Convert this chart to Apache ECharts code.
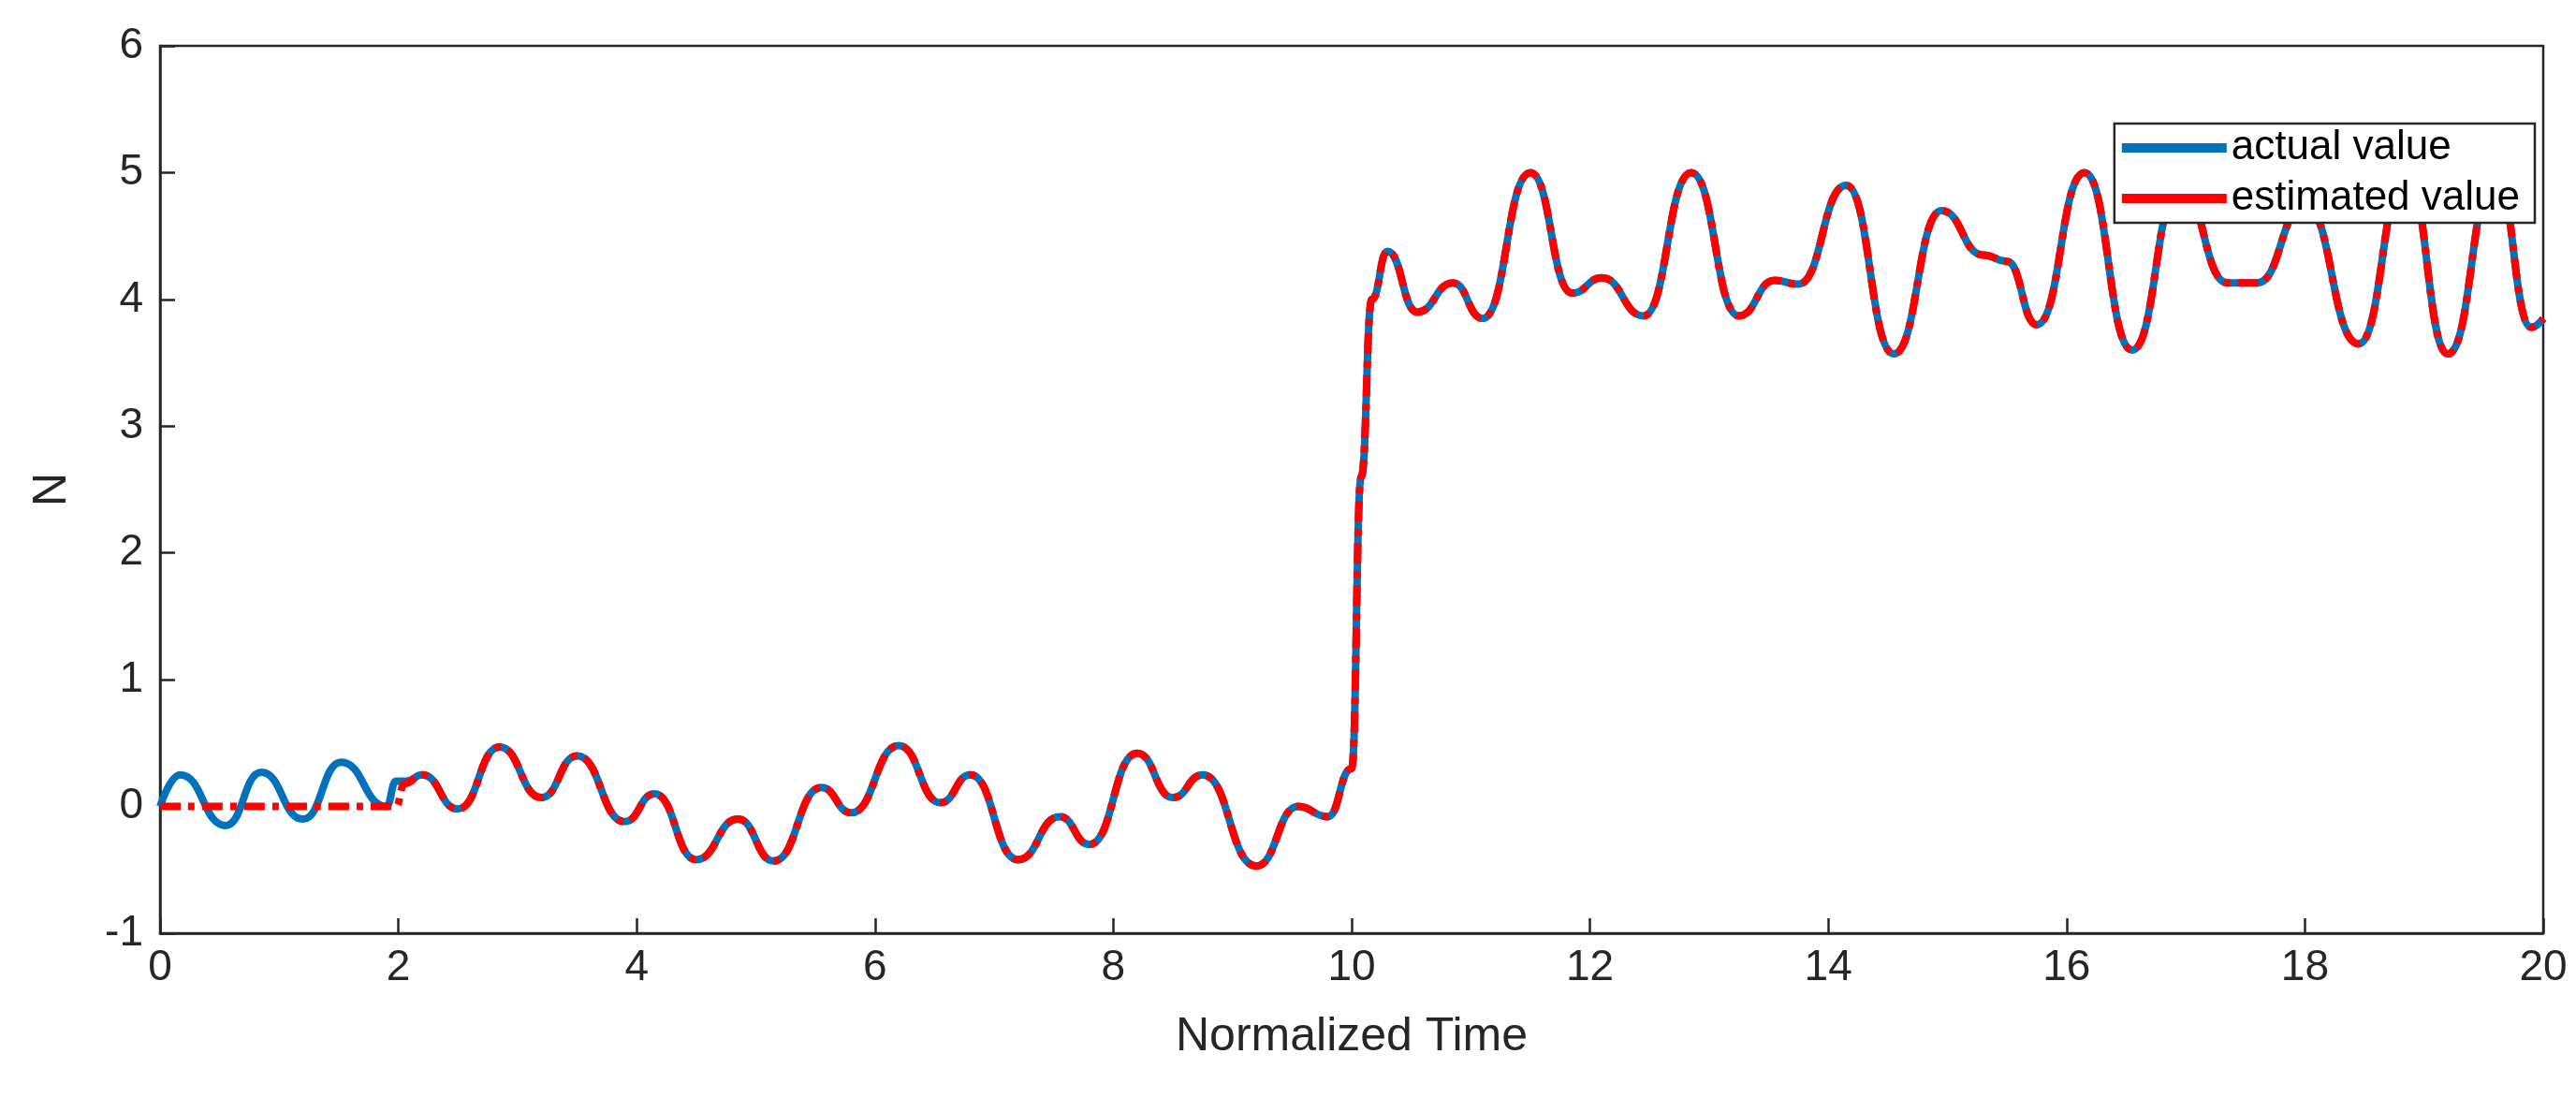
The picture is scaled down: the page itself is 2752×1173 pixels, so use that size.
<!DOCTYPE html>
<html>
<head>
<meta charset="utf-8">
<script src="https://cdn.jsdelivr.net/npm/echarts@6/dist/echarts.min.js"></script>
<style>html,body{margin:0;padding:0;background:#fff}#main{width:2752px;height:1173px}</style>
</head>
<body>
<div id="main"></div>
<script>
// actual value: time / value pairs
var actualT = [0,0.17,0.55,0.85,1.2,1.52,1.9,1.98,2.07,2.2,2.5,2.85,3.2,3.5,3.9,4.15,4.5,4.85,5.15,5.55,5.8,6.2,6.55,6.8,7.2,7.55,7.8,8.2,8.5,8.75,9.2,9.55,9.8,10.0,10.08,10.17,10.3,10.55,10.85,11.1,11.5,11.85,12.1,12.45,12.85,13.25,13.55,13.75,14.15,14.55,14.95,15.3,15.5,15.75,16.15,16.55,16.95,17.35,17.6,18.0,18.45,18.85,19.2,19.6,19.9,20];
var actualV = [0,0.25,-0.15,0.27,-0.1,0.35,0.0,0.2,0.2,0.25,-0.02,0.47,0.07,0.4,-0.12,0.1,-0.42,-0.1,-0.43,0.15,-0.05,0.48,0.03,0.25,-0.42,-0.08,-0.3,0.42,0.07,0.25,-0.47,0,-0.08,0.3,2.6,4.0,4.38,3.9,4.13,3.85,5.0,4.05,4.17,3.87,5.0,3.87,4.15,4.12,4.9,3.57,4.7,4.35,4.3,3.8,5.0,3.6,4.9,4.13,4.13,4.75,3.65,5.0,3.57,5.0,3.78,3.85];
// estimated value: zero until t=2, then follows the actual signal
var estT = [0,1.98,2.05].concat(actualT.slice(9));
var estV = [0,0,0.18].concat(actualV.slice(9));
var xTicks = [0,2,4,6,8,10,12,14,16,18,20];
var yTicks = [-1,0,1,2,3,4,5,6];

function pairs(t,v){ return t.map(function(x,i){ return [x,v[i]]; }); }

var chart = echarts.init(document.getElementById('main'));
var axisTxt = {color:'#262626',fontSize:46,fontFamily:'Arial, Liberation Sans'};
chart.setOption({
  animation:false,
  grid:{left:171,right:35,top:49,bottom:176,show:true,borderColor:'#262626',borderWidth:2.5},
  xAxis:{type:'value',min:0,max:20,interval:2,name:'Normalized Time',nameLocation:'middle',nameGap:86,
    nameTextStyle:{color:'#262626',fontSize:50,fontFamily:'Arial, Liberation Sans'},
    axisLine:{onZero:false,lineStyle:{color:'#262626',width:2.5}},axisTick:{inside:true,length:16,lineStyle:{color:'#262626',width:2.5}},
    axisLabel:Object.assign({margin:14},axisTxt),splitLine:{show:false}},
  yAxis:{type:'value',min:-1,max:6,interval:1,name:'N',nameLocation:'middle',nameGap:90,
    nameTextStyle:{color:'#262626',fontSize:50,fontFamily:'Arial, Liberation Sans'},
    axisLine:{show:true,onZero:false,lineStyle:{color:'#262626',width:2.5}},axisTick:{show:true,inside:true,length:16,lineStyle:{color:'#262626',width:2.5}},
    axisLabel:Object.assign({margin:18},axisTxt),splitLine:{show:false}},
  legend:{right:44,top:132,orient:'vertical',itemWidth:112,itemHeight:10,itemGap:10,
    backgroundColor:'#fff',borderColor:'#262626',borderWidth:2.5,borderRadius:0,padding:[4,16,4,8],
    textStyle:{color:'#000',fontSize:44,fontFamily:'Arial, Liberation Sans'},
    data:[{name:'actual value',icon:'rect',itemStyle:{color:'#0072BD'}},{name:'estimated value',icon:'rect',itemStyle:{color:'#FF0000'}}]},
  series:[
    {name:'actual value',type:'line',data:pairs(actualT,actualV),smooth:0.5,smoothMonotone:'x',showSymbol:false,
      lineStyle:{color:'#0072BD',width:8},itemStyle:{color:'#0072BD'}},
    {name:'estimated value',type:'line',data:pairs(estT,estV),smooth:0.5,smoothMonotone:'x',showSymbol:false,
      lineStyle:{color:'#FF0000',width:8,type:[22,8,7,8]},itemStyle:{color:'#FF0000'}}
  ]
});
</script>
</body>
</html>
